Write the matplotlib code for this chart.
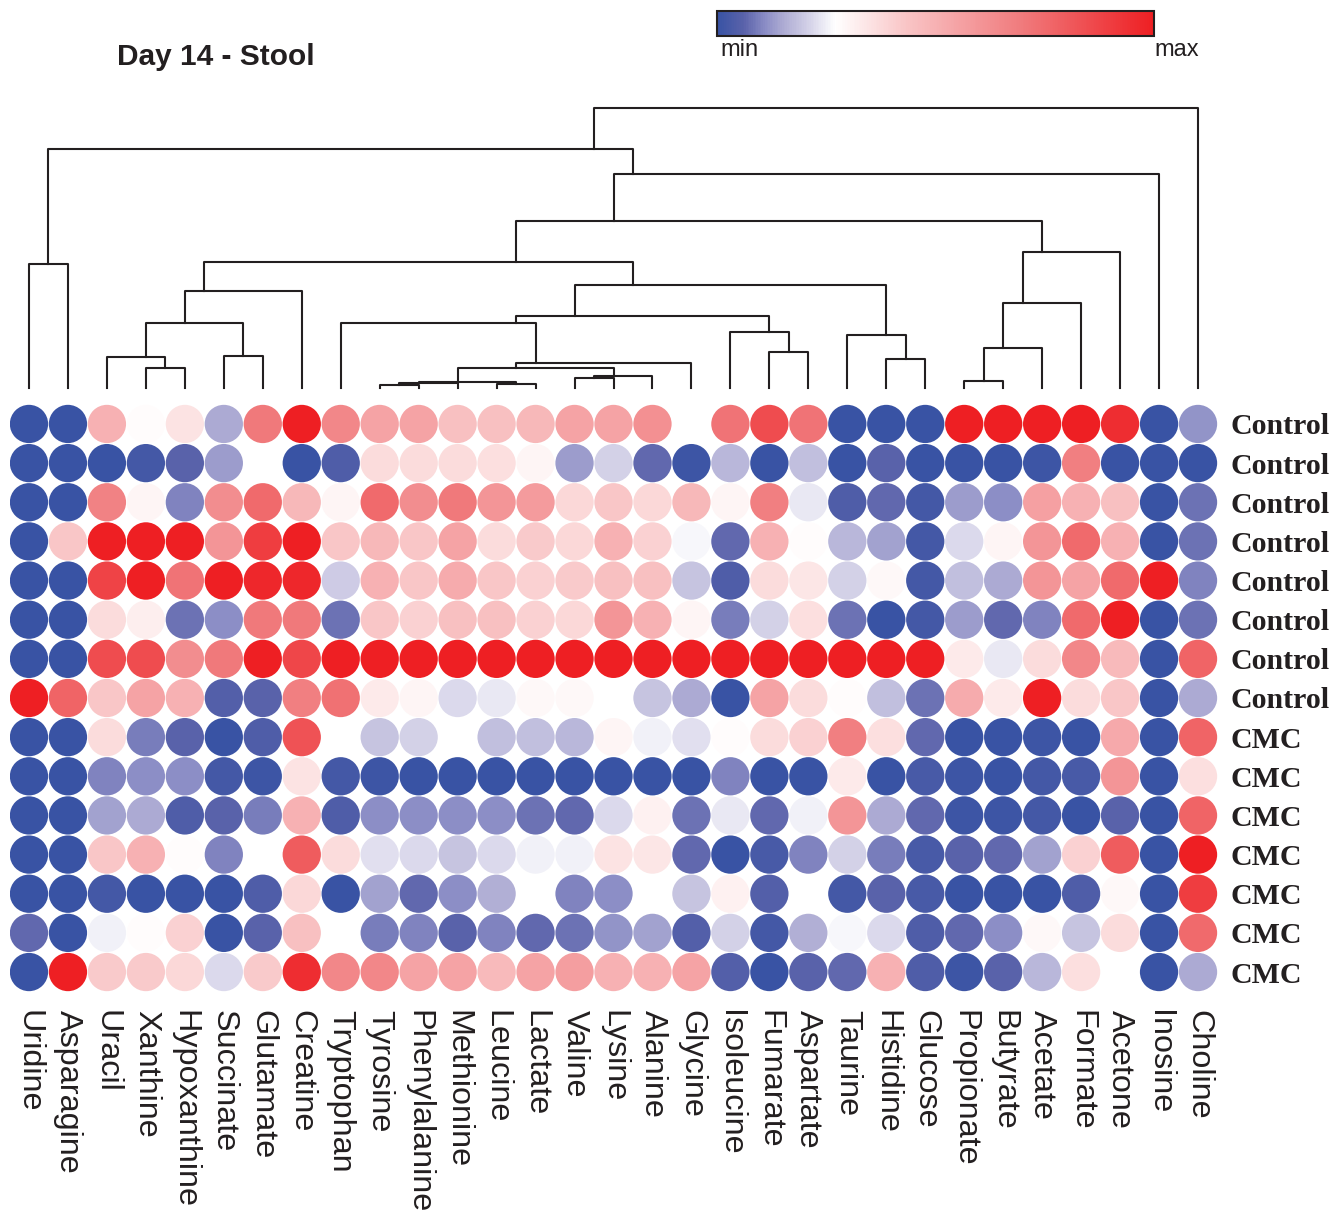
import numpy as np
import matplotlib.pyplot as plt
from matplotlib.colors import LinearSegmentedColormap, Normalize
from matplotlib.cm import ScalarMappable

# Metabolites (columns, in dendrogram leaf order)
metabolites = ['Uridine', 'Asparagine', 'Uracil', 'Xanthine', 'Hypoxanthine',
               'Succinate', 'Glutamate', 'Creatine', 'Tryptophan', 'Tyrosine',
               'Phenylalanine', 'Methionine', 'Leucine', 'Lactate', 'Valine',
               'Lysine', 'Alanine', 'Glycine', 'Isoleucine', 'Fumarate',
               'Aspartate', 'Taurine', 'Histidine', 'Glucose', 'Propionate',
               'Butyrate', 'Acetate', 'Formate', 'Acetone', 'Inosine', 'Choline']

samples = ['Control'] * 8 + ['CMC'] * 7

# scaled levels per sample (0 = min, 1 = max)
control_1 = [0.0, 0.0, 0.5, 0.28, 0.35, 0.15, 0.7, 1.0, 0.65, 0.55, 0.55, 0.45, 0.45, 0.48, 0.55, 0.55,
             0.62, 0.27, 0.72, 0.85, 0.72, 0.0, 0.0, 0.0, 1.0, 1.0, 1.0, 1.0, 0.95, 0.0, 0.12]
control_2 = [0.0, 0.0, 0.0, 0.02, 0.06, 0.13, 0.27, 0.0, 0.04, 0.37, 0.37, 0.37, 0.36, 0.3, 0.13, 0.21,
             0.07, 0.01, 0.17, 0.0, 0.18, 0.0, 0.06, 0.0, 0.0, 0.0, 0.01, 0.68, 0.0, 0.0, 0.0]
control_3 = [0.0, 0.0, 0.67, 0.3, 0.1, 0.63, 0.75, 0.48, 0.3, 0.75, 0.63, 0.7, 0.6, 0.58, 0.38, 0.43,
             0.38, 0.48, 0.3, 0.68, 0.24, 0.04, 0.07, 0.02, 0.13, 0.11, 0.56, 0.5, 0.45, 0.0, 0.08]
control_4 = [0.0, 0.43, 1.0, 1.0, 1.0, 0.6, 0.9, 1.0, 0.43, 0.48, 0.43, 0.55, 0.37, 0.42, 0.38, 0.5,
             0.4, 0.26, 0.07, 0.5, 0.28, 0.17, 0.14, 0.02, 0.22, 0.3, 0.6, 0.75, 0.5, 0.0, 0.08]
control_5 = [0.0, 0.0, 0.88, 1.0, 0.72, 1.0, 0.97, 0.97, 0.2, 0.5, 0.43, 0.52, 0.43, 0.4, 0.42, 0.45,
             0.45, 0.19, 0.04, 0.37, 0.34, 0.21, 0.29, 0.02, 0.18, 0.15, 0.6, 0.55, 0.75, 1.0, 0.1]
control_6 = [0.0, 0.0, 0.37, 0.32, 0.08, 0.11, 0.7, 0.7, 0.08, 0.43, 0.4, 0.45, 0.45, 0.4, 0.38, 0.6,
             0.5, 0.3, 0.09, 0.21, 0.36, 0.08, 0.0, 0.02, 0.13, 0.07, 0.1, 0.75, 1.0, 0.0, 0.08]
control_7 = [0.0, 0.0, 0.85, 0.85, 0.63, 0.7, 1.0, 0.87, 1.0, 1.0, 1.0, 1.0, 1.0, 1.0, 1.0, 1.0,
             1.0, 1.0, 1.0, 1.0, 1.0, 1.0, 1.0, 1.0, 0.33, 0.24, 0.37, 0.65, 0.47, 0.0, 0.77]
control_8 = [1.0, 0.77, 0.43, 0.55, 0.5, 0.05, 0.06, 0.68, 0.73, 0.33, 0.3, 0.22, 0.24, 0.29, 0.29, 0.27,
             0.19, 0.15, 0.0, 0.55, 0.37, 0.28, 0.18, 0.08, 0.52, 0.33, 1.0, 0.37, 0.43, 0.0, 0.15]
cmc_1 = [0.0, 0.0, 0.37, 0.09, 0.06, 0.0, 0.04, 0.83, 0.27, 0.19, 0.21, 0.27, 0.18, 0.18, 0.17, 0.3,
         0.25, 0.23, 0.28, 0.37, 0.4, 0.68, 0.36, 0.07, 0.0, 0.0, 0.01, 0.0, 0.53, 0.0, 0.77]
cmc_2 = [0.0, 0.0, 0.1, 0.11, 0.11, 0.02, 0.01, 0.35, 0.02, 0.01, 0.0, 0.0, 0.0, 0.0, 0.0, 0.0,
         0.0, 0.0, 0.1, 0.0, 0.0, 0.33, 0.0, 0.03, 0.01, 0.0, 0.02, 0.03, 0.6, 0.0, 0.36]
cmc_3 = [0.0, 0.0, 0.14, 0.15, 0.04, 0.06, 0.09, 0.5, 0.04, 0.11, 0.11, 0.11, 0.11, 0.08, 0.07, 0.22,
         0.31, 0.08, 0.24, 0.07, 0.25, 0.6, 0.15, 0.07, 0.01, 0.01, 0.02, 0.0, 0.06, 0.0, 0.77]
cmc_4 = [0.0, 0.0, 0.43, 0.5, 0.28, 0.1, 0.27, 0.8, 0.37, 0.23, 0.22, 0.19, 0.22, 0.25, 0.25, 0.35,
         0.34, 0.07, 0.0, 0.03, 0.1, 0.21, 0.09, 0.03, 0.06, 0.07, 0.14, 0.4, 0.8, 0.0, 1.0]
cmc_5 = [0.0, 0.0, 0.02, 0.0, 0.0, 0.0, 0.04, 0.38, 0.0, 0.14, 0.07, 0.11, 0.16, 0.27, 0.1, 0.11,
         0.27, 0.19, 0.31, 0.05, 0.27, 0.02, 0.06, 0.03, 0.0, 0.0, 0.0, 0.04, 0.29, 0.0, 0.9]
cmc_6 = [0.07, 0.0, 0.25, 0.28, 0.4, 0.0, 0.06, 0.45, 0.27, 0.09, 0.1, 0.06, 0.1, 0.07, 0.08, 0.12,
         0.14, 0.05, 0.21, 0.02, 0.16, 0.26, 0.22, 0.04, 0.07, 0.11, 0.29, 0.19, 0.37, 0.0, 0.75]
cmc_7 = [0.0, 1.0, 0.42, 0.42, 0.38, 0.22, 0.42, 0.95, 0.65, 0.65, 0.55, 0.55, 0.47, 0.55, 0.57, 0.5,
         0.5, 0.55, 0.05, 0.0, 0.06, 0.07, 0.5, 0.04, 0.01, 0.06, 0.17, 0.36, 0.27, 0.0, 0.15]

# column dendrogram: merges of clusters (leaves 0..30, new clusters numbered from 31)
merge_left = [9, 31, 12, 32, 14, 35, 34, 37, 8, 19, 18, 39, 22, 21, 42,
              3, 2, 5, 47, 49, 50, 24, 52, 53, 54, 51, 56, 0, 58, 59]
merge_right = [10, 11, 13, 33, 15, 16, 36, 17, 38, 20, 40, 41, 23, 43, 44,
               4, 46, 6, 48, 7, 45, 25, 26, 27, 28, 55, 29, 1, 57, 30]
merge_height = [3.5, 5, 4.5, 6, 10.5, 12, 20, 25, 65, 36, 56, 72, 29, 53, 103,
                20, 31, 32, 65, 97, 126, 7, 40, 85, 136, 167, 214, 124, 239, 280]

values = np.array([control_1, control_2, control_3, control_4, control_5, control_6,
                   control_7, control_8, cmc_1, cmc_2, cmc_3, cmc_4, cmc_5, cmc_6, cmc_7])

cmap = LinearSegmentedColormap.from_list('bwr_skew', [
    (0.0, '#3953A4'), (0.06, '#5A62AA'), (0.11, '#8C8EC6'), (0.15, '#ADABD3'),
    (0.21, '#D4D2E8'), (0.27, '#FFFFFF'), (0.43, '#F9C6C7'), (0.55, '#F5A3A5'),
    (0.7, '#F07A7C'), (1.0, '#EE1F23')])
norm = Normalize(0, 1)
ink = '#231F20'

W, H = 1335, 1219
fig = plt.figure(figsize=(W / 100, H / 100), dpi=100)

# heatmap of circles
ax = fig.add_axes([9.5 / W, 1 - 991.6 / H, 1208 / W, 587.2 / H])
n_rows, n_cols = values.shape
xx, yy = np.meshgrid(np.arange(n_cols), np.arange(n_rows))
ax.scatter(xx.ravel(), yy.ravel(), c=values.ravel(), cmap=cmap, norm=norm,
           s=760, edgecolors='none')
ax.set_xlim(-0.5, n_cols - 0.5)
ax.set_ylim(n_rows - 0.5, -0.5)
for sp in ax.spines.values():
    sp.set_visible(False)
ax.set_xticks(range(n_cols))
ax.set_xticklabels(metabolites, rotation=270, ha='center', va='top',
                   fontsize=23.3, family='Liberation Sans', color=ink)
ax.tick_params(axis='x', length=0, pad=13)
ax.yaxis.tick_right()
ax.set_yticks(range(n_rows))
ax.set_yticklabels(samples, fontsize=21.5, family='Liberation Serif',
                   fontweight='bold', color=ink)
ax.tick_params(axis='y', length=0, pad=9)

# dendrogram on top
dax = fig.add_axes([9.5 / W, 1 - 388 / H, 1208 / W, 288 / H])
dax.set_xlim(-0.5, n_cols - 0.5)
dax.set_ylim(0, 288)
dax.axis('off')
members = {i: [i] for i in range(n_cols)}
node_h = {i: 0.0 for i in range(n_cols)}
for k, (a, b, h) in enumerate(zip(merge_left, merge_right, merge_height)):
    xa, xb = np.mean(members[a]), np.mean(members[b])
    dax.plot([xa, xa, xb, xb], [node_h[a], h, h, node_h[b]], color=ink,
             lw=1.5, clip_on=False)
    members[n_cols + k] = members[a] + members[b]
    node_h[n_cols + k] = h

# colour key
cax = fig.add_axes([717 / W, 1 - 36 / H, 437 / W, 25 / H])
cb = fig.colorbar(ScalarMappable(norm=norm, cmap=cmap), cax=cax, orientation='horizontal')
cb.set_ticks([])
cb.outline.set_linewidth(1.5)
cb.outline.set_edgecolor(ink)
fig.text(720 / W, 1 - 50 / H, 'min', ha='left', va='center', fontsize=17,
         family='Liberation Sans', color=ink)
fig.text(1199 / W, 1 - 50 / H, 'max', ha='right', va='center', fontsize=17,
         family='Liberation Sans', color=ink)

fig.text(117 / W, 1 - 57 / H, 'Day 14 - Stool', ha='left', va='center', fontsize=21.5,
         fontweight='bold', family='Liberation Sans', color=ink)

fig.savefig('out.png', dpi=100)
